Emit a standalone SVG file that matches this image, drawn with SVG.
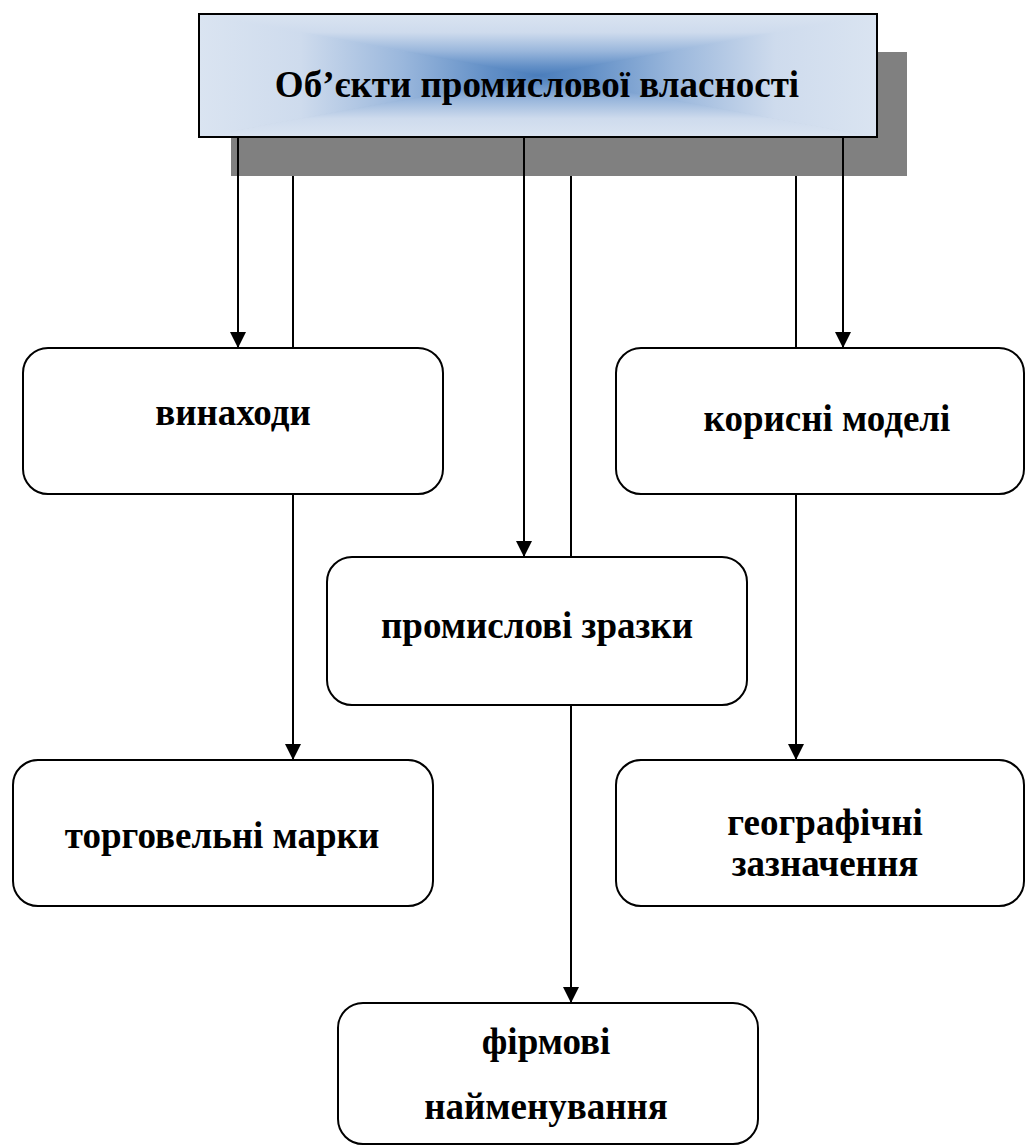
<svg xmlns="http://www.w3.org/2000/svg" width="1026" height="1146" viewBox="0 0 1026 1146">
<style>
.node{fill:#fff;stroke:#000;stroke-width:2}
.lbl{font-family:"Liberation Serif","Times New Roman",serif;font-weight:bold;font-size:37px;fill:#000;text-anchor:middle}
.con{stroke:#000;stroke-width:2;fill:none}
.s0{stop-color:#dae4f1}
.s1{stop-color:#cedbed}
.s2{stop-color:#9ab7dc}
.s3{stop-color:#6390c7}
.s4{stop-color:#4a7dbb}
</style>
<defs>
<linearGradient id="gT" gradientUnits="userSpaceOnUse" x1="0" y1="14" x2="0" y2="75.5">
<stop offset="0" class="s0"/><stop offset="0.3" class="s1"/><stop offset="0.6" class="s2"/><stop offset="0.85" class="s3"/><stop offset="1" class="s4"/>
</linearGradient>
<linearGradient id="gB" gradientUnits="userSpaceOnUse" x1="0" y1="137" x2="0" y2="75.5">
<stop offset="0" class="s0"/><stop offset="0.3" class="s1"/><stop offset="0.6" class="s2"/><stop offset="0.85" class="s3"/><stop offset="1" class="s4"/>
</linearGradient>
<linearGradient id="gL" gradientUnits="userSpaceOnUse" x1="199" y1="0" x2="538" y2="0">
<stop offset="0" class="s0"/><stop offset="0.3" class="s1"/><stop offset="0.6" class="s2"/><stop offset="0.85" class="s3"/><stop offset="1" class="s4"/>
</linearGradient>
<linearGradient id="gR" gradientUnits="userSpaceOnUse" x1="877" y1="0" x2="538" y2="0">
<stop offset="0" class="s0"/><stop offset="0.3" class="s1"/><stop offset="0.6" class="s2"/><stop offset="0.85" class="s3"/><stop offset="1" class="s4"/>
</linearGradient>
<marker id="arr" viewBox="0 0 16 16" refX="16" refY="8" markerWidth="16" markerHeight="16" markerUnits="userSpaceOnUse" orient="auto">
<path d="M0,0 L16,8 L0,16 Z" fill="#000"/>
</marker>
</defs>
<g id="top">
<rect x="231" y="52" width="676" height="124" fill="#808080"/>
<polygon points="199,14 877,14 538,75.5" fill="url(#gT)" stroke="url(#gT)" stroke-width="1"/>
<polygon points="199,137 877,137 538,75.5" fill="url(#gB)" stroke="url(#gB)" stroke-width="1"/>
<polygon points="199,14 199,137 538,75.5" fill="url(#gL)" stroke="url(#gL)" stroke-width="1"/>
<polygon points="877,14 877,137 538,75.5" fill="url(#gR)" stroke="url(#gR)" stroke-width="1"/>
<rect x="199" y="14" width="678" height="123" fill="none" stroke="#000" stroke-width="2"/>
<text class="lbl" x="537" y="97">Об’єкти промислової власності</text>
</g>
<g id="connectors">
<line class="con" x1="238" y1="137" x2="238" y2="348" marker-end="url(#arr)"/>
<line class="con" x1="293" y1="176" x2="293" y2="348"/>
<line class="con" x1="293" y1="494" x2="293" y2="760" marker-end="url(#arr)"/>
<line class="con" x1="524" y1="137" x2="524" y2="557" marker-end="url(#arr)"/>
<line class="con" x1="571" y1="176" x2="571" y2="557"/>
<line class="con" x1="571" y1="705" x2="571" y2="1003" marker-end="url(#arr)"/>
<line class="con" x1="796" y1="176" x2="796" y2="348"/>
<line class="con" x1="796" y1="494" x2="796" y2="760" marker-end="url(#arr)"/>
<line class="con" x1="843" y1="137" x2="843" y2="348" marker-end="url(#arr)"/>
</g>
<g id="vynakhody">
<rect class="node" x="23" y="348" width="420" height="146" rx="25"/>
<text class="lbl" x="233" y="425">винаходи</text>
</g>
<g id="korysni">
<rect class="node" x="616" y="348" width="408" height="146" rx="25"/>
<text class="lbl" x="827" y="431">корисні моделі</text>
</g>
<g id="promyslovi">
<rect class="node" x="327" y="557" width="420" height="148" rx="25"/>
<text class="lbl" x="537" y="638">промислові зразки</text>
</g>
<g id="torhovelni">
<rect class="node" x="13" y="760" width="420" height="146" rx="25"/>
<text class="lbl" x="222" y="848">торговельні марки</text>
</g>
<g id="heohrafichni">
<rect class="node" x="616" y="760" width="408" height="146" rx="25"/>
<text class="lbl" x="825" y="835">географічні</text>
<text class="lbl" x="825" y="876">зазначення</text>
</g>
<g id="firmovi">
<rect class="node" x="338" y="1003" width="420" height="141" rx="25"/>
<text class="lbl" x="546" y="1054">фірмові</text>
<text class="lbl" x="546" y="1119">найменування</text>
</g>
</svg>
